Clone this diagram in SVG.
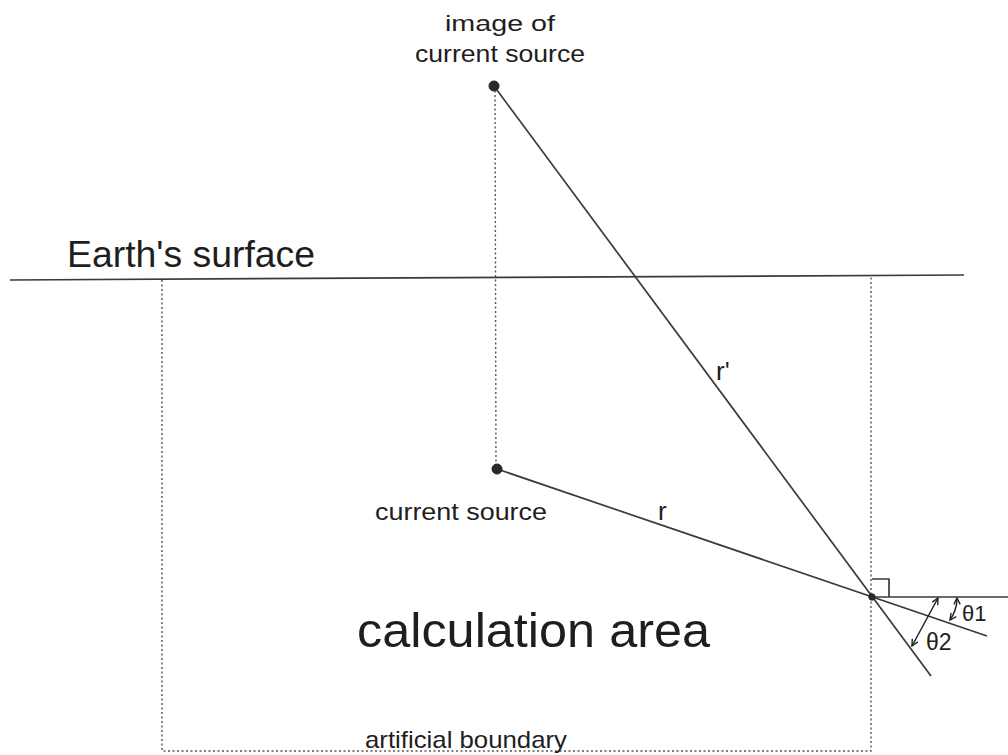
<svg xmlns="http://www.w3.org/2000/svg" width="1008" height="755" viewBox="0 0 1008 755">
<style>
.ln{stroke:#3a3a3a;stroke-width:1.7;fill:none}
.dot{stroke:#555;stroke-width:1.4;stroke-dasharray:2 2.5;fill:none}
.t{font-family:"Liberation Sans",Arial,sans-serif;fill:#1e1e1e}
.src{fill:#2a2a2a;stroke:#222;stroke-width:1}
.arr{stroke:#222;stroke-width:1.5;fill:none;marker-start:url(#ah);marker-end:url(#ah)}
</style>
<defs>
<marker id="ah" viewBox="0 0 10 10" refX="9" refY="5" markerWidth="8" markerHeight="8" orient="auto-start-reverse" markerUnits="userSpaceOnUse">
<path d="M1,1 L9,5 L1,9" fill="none" stroke="#222" stroke-width="1.7"/>
</marker>
</defs>
<rect width="1008" height="755" fill="#fff"/>
<g id="surface">
<line class="ln" x1="10" y1="280" x2="964" y2="275"/>
<text class="t" x="67" y="267" font-size="36" textLength="248" lengthAdjust="spacingAndGlyphs">Earth's  surface</text>
</g>
<g id="calculation-area">
<polyline class="dot" points="162,280 162,751 871,751 871,276"/>
<text class="t" x="357" y="647" font-size="48" textLength="353" lengthAdjust="spacingAndGlyphs">calculation area</text>
<text class="t" x="365" y="748" font-size="24" textLength="202" lengthAdjust="spacingAndGlyphs">artificial boundary</text>
</g>
<g id="connectors">
<line class="dot" x1="495" y1="86" x2="496" y2="469"/>
<line class="ln" x1="494" y1="86" x2="931" y2="676"/>
<line class="ln" x1="497" y1="469" x2="987" y2="636"/>
<line class="ln" x1="872" y1="597" x2="1008" y2="597"/>
<polyline class="ln" points="872,579 889,579 889,597" stroke-width="1.4"/>
<path class="arr" d="M957,598 Q957,610 950,620"/>
<line class="arr" x1="938" y1="598" x2="912" y2="646"/>
</g>
<g id="image-source">
<circle class="src" cx="494" cy="86" r="5"/>
<text class="t" x="500" y="31" font-size="22" text-anchor="middle" textLength="110" lengthAdjust="spacingAndGlyphs">image of</text>
<text class="t" x="500" y="62" font-size="23" text-anchor="middle" textLength="170" lengthAdjust="spacingAndGlyphs">current source</text>
</g>
<g id="current-source">
<circle class="src" cx="497" cy="469" r="5"/>
<text class="t" x="375" y="520" font-size="23" textLength="172" lengthAdjust="spacingAndGlyphs">current source</text>
</g>
<g id="point">
<circle class="src" cx="872" cy="597" r="3.2"/>
</g>
<g id="labels">
<text class="t" x="658" y="520" font-size="26">r</text>
<text class="t" x="716" y="380" font-size="26">r'</text>
<text class="t" x="962" y="621" font-size="22">θ1</text>
<text class="t" x="926" y="650" font-size="23">θ2</text>
</g>
</svg>
